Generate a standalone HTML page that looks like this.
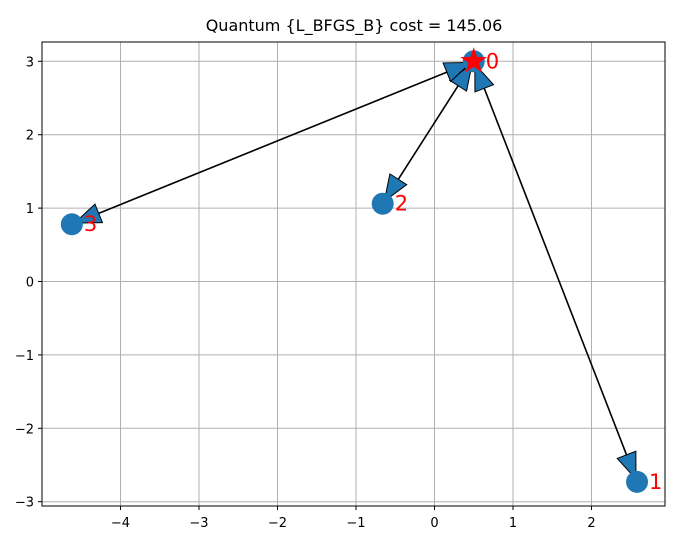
<!DOCTYPE html>
<html><head><meta charset="utf-8"><style>
body{margin:0;background:#fff;}
svg{display:block;font-family:"DejaVu Sans","Liberation Sans",sans-serif;}
</style></head><body>
<svg id="chart" width="688" height="545">
<rect x="0" y="0" width="688" height="545" fill="#fff"/>
<g id="grid"></g>
<g id="edges"></g>
<g id="nodes"></g>
<rect x="42" y="42" width="623" height="464" fill="none" stroke="#000" stroke-width="1"/>
<g id="axes"></g>
<text x="354" y="31" text-anchor="middle" font-size="16">Quantum {L_BFGS_B} cost = 145.06</text>
</svg>
<script>
const nodeIds=["0","1","2","3"];
const nodeX=[0.5,2.58,-0.66,-4.62];
const nodeY=[3.0,-2.73,1.06,0.78];
const edgeFrom=[0,0,0];
const edgeTo=[1,2,3];
const xTicks=[-4,-3,-2,-1,0,1,2];
const yTicks=[-3,-2,-1,0,1,2,3];
const NS="http://www.w3.org/2000/svg";
const X=v=>434.5+v*78.5;
const Y=v=>281.5-v*73.4;
function mk(tag,attrs,parent){const e=document.createElementNS(NS,tag);for(const k in attrs)e.setAttribute(k,attrs[k]);parent.appendChild(e);return e;}
const grid=document.getElementById('grid'),axes=document.getElementById('axes');
xTicks.forEach(t=>{
 const gl=mk('line',{x1:X(t),x2:X(t),y1:42,y2:506,stroke:'#b0b0b0','stroke-width':1},grid);
 
 
 mk('line',{x1:X(t),x2:X(t),y1:506,y2:510,stroke:'#000'},axes);
 const tx=mk('text',{x:X(t),y:527,'text-anchor':'middle','font-size':13},axes);
 tx.textContent=t<0?'\u2212'+(-t):String(t);
 
 
});
yTicks.forEach(t=>{
 const gl=mk('line',{x1:42,x2:665,y1:Y(t),y2:Y(t),stroke:'#b0b0b0','stroke-width':1},grid);
 
 
 mk('line',{x1:38,x2:42,y1:Y(t),y2:Y(t),stroke:'#000'},axes);
 const tx=mk('text',{x:34,y:Y(t)+5,'text-anchor':'end','font-size':13},axes);
 tx.textContent=t<0?'\u2212'+(-t):String(t);
 
 
});
const nodesG=document.getElementById('nodes'),edgesG=document.getElementById('edges');
nodeIds.forEach((id,i)=>{
 const c=mk('circle',{cx:X(nodeX[i]),cy:Y(nodeY[i]),r:11,fill:'#1f77b4'},nodesG);
 
 
});
function head(tx,ty,ux,uy,g){
 const L=26,W=10;const bx=tx-ux*L,by=ty-uy*L;const px=-uy,py=ux;
 mk('polygon',{points:`${tx},${ty} ${bx+px*W},${by+py*W} ${bx-px*W},${by-py*W}`,fill:'#1f77b4',stroke:'#000','stroke-width':1},g);
}
edgeFrom.forEach((f,k)=>{
 const t=edgeTo[k];
 const x1=X(nodeX[f]),y1=Y(nodeY[f]),x2=X(nodeX[t]),y2=Y(nodeY[t]);
 const d=Math.hypot(x2-x1,y2-y1),ux=(x2-x1)/d,uy=(y2-y1)/d;
 const g=mk('g',{},edgesG);
 
 
 mk('line',{x1:x1,y1:y1,x2:x2,y2:y2,stroke:'#000','stroke-width':1.6},g);
 head(x2-ux*3,y2-uy*3,ux,uy,g);
 head(x1+ux*3,y1+uy*3,-ux,-uy,g);
});
nodeIds.forEach((id,i)=>{
 const lb=mk('text',{x:X(nodeX[i])+12,y:Y(nodeY[i])+7,'font-size':21,fill:'red'},nodesG);
 lb.textContent=id;
 
 
});
const sx=X(nodeX[0]),sy=Y(nodeY[0]);let pts=[];
for(let j=0;j<10;j++){const r=j%2?5.5:14,a=-Math.PI/2+j*Math.PI/5;pts.push((sx+r*Math.cos(a)).toFixed(1)+','+(sy+r*Math.sin(a)).toFixed(1));}
const st=mk('polygon',{points:pts.join(' '),fill:'red'},nodesG);


</script>
</body></html>
